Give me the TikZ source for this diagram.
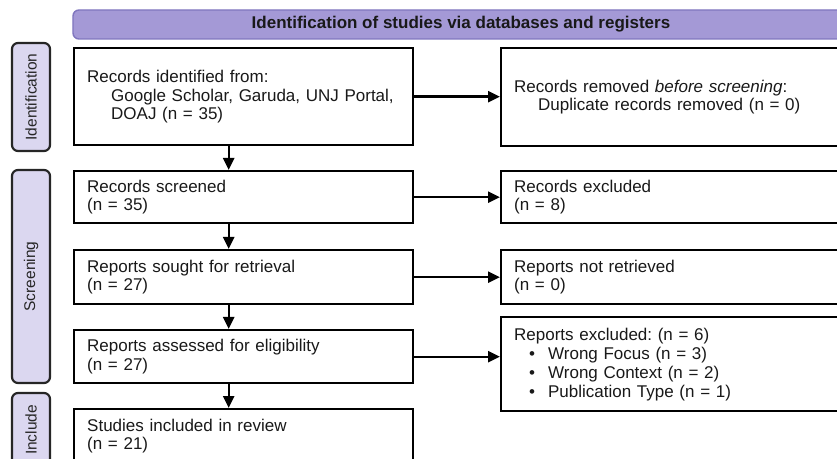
\documentclass[tikz,border=0pt]{standalone}
\usepackage{fontspec}
\setmainfont{Liberation Sans}
\usetikzlibrary{arrows.meta}
\definecolor{headfill}{RGB}{164,153,214}
\definecolor{headdraw}{RGB}{128,118,190}
\definecolor{phasefill}{RGB}{219,215,240}
\frenchspacing

\begin{document}
\begin{tikzpicture}[x=1bp, y=-1bp,
    box/.style={draw=black, line width=2.4bp, fill=white, minimum width=339bp,
        inner xsep=13bp, inner ysep=0pt, text width=313bp, align=left, anchor=north west,
        font=\fontsize{17bp}{18.5bp}\selectfont, text=black!90},
    sidebox/.style={box, minimum width=349bp, text width=323bp},
    phase/.style={draw=black!85, line width=2.2bp, fill=phasefill, rounded corners=6bp,
        rotate=90, minimum height=38bp, inner sep=0pt, text=black!85,
        font=\fontsize{15.5bp}{17bp}\selectfont},
    arr/.style={line width=2.4bp, -{Triangle[length=12bp, width=11bp]}}]

    % Khung hình
    \useasboundingbox (0,0) rectangle (837,459);
    \clip (0,0) rectangle (837,459);

    % Thanh tiêu đề
    \node[draw=headdraw, line width=1.4bp, fill=headfill, rounded corners=6bp,
        minimum width=776bp, minimum height=29bp, text=black!90,
        font=\bfseries\fontsize{17bp}{20bp}\selectfont] (head) at (461,24.5)
        {Identification of studies via databases and registers};

    % Các giai đoạn (nhãn dọc)
    \node[phase, minimum width=108bp] (pid) at (31,97) {Identification};
    \node[phase, minimum width=213bp] (pscr) at (31,276.5) {Screening};
    \node[phase, minimum width=74bp] (pinc) at (31,430) {Include};

    % Cột trái
    \node[box, minimum height=97bp] (ident) at (73,47)
        {Records identified from:\\
         \hspace*{24bp}Google Scholar, Garuda, UNJ Portal,\\
         \hspace*{24bp}DOAJ (n = 35)};
    \node[box, minimum height=52bp] (screen) at (73,170) {Records screened\\(n = 35)};
    \node[box, minimum height=54bp] (sought) at (73,249) {Reports sought for retrieval\\(n = 27)};
    \node[box, minimum height=53bp] (assess) at (73,329) {Reports assessed for eligibility\\(n = 27)};
    \node[box, minimum height=54bp] (incl) at (73,408) {Studies included in review\\(n = 21)};

    % Cột phải
    \node[sidebox, minimum height=98bp] (removed) at (500,47)
        {Records removed \textit{before screening}:\\
         \hspace*{24bp}Duplicate records removed (n = 0)};
    \node[sidebox, minimum height=52bp] (excl) at (500,170) {Records excluded\\(n = 8)};
    \node[sidebox, minimum height=54bp] (notret) at (500,249) {Reports not retrieved\\(n = 0)};
    \node[sidebox, minimum height=94bp, font=\fontsize{17bp}{19bp}\selectfont] (repexcl) at (500,316)
        {Reports excluded: (n = 6)\\
         \hspace*{15bp}\textbullet\hspace{13bp}Wrong Focus (n = 3)\\
         \hspace*{15bp}\textbullet\hspace{13bp}Wrong Context (n = 2)\\
         \hspace*{15bp}\textbullet\hspace{13bp}Publication Type (n = 1)};

    % Mũi tên dọc
    \draw[arr] ([xshift=-15bp]ident.south) -- ([xshift=-15bp]screen.north);
    \draw[arr] ([xshift=-15bp]screen.south) -- ([xshift=-15bp]sought.north);
    \draw[arr] ([xshift=-15bp]sought.south) -- ([xshift=-15bp]assess.north);
    \draw[arr] ([xshift=-15bp]assess.south) -- ([xshift=-15bp]incl.north);

    % Mũi tên ngang
    \draw[arr] (ident.east) -- (ident.east -| removed.west);
    \draw[arr] (screen.east) -- (screen.east -| excl.west);
    \draw[arr] (sought.east) -- (sought.east -| notret.west);
    \draw[arr] (assess.east) -- (assess.east -| repexcl.west);

\end{tikzpicture}
\end{document}
